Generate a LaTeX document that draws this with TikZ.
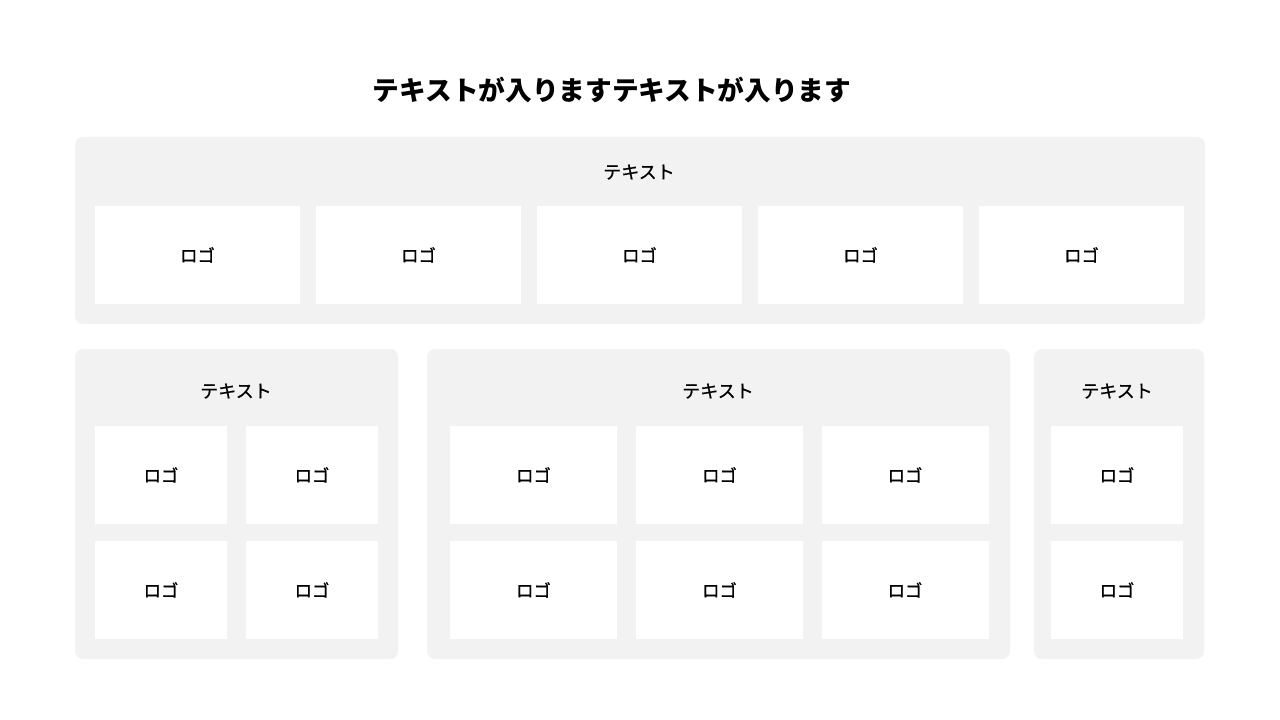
\documentclass[tikz,border=0pt]{standalone}
\usepackage{fontspec}
\setmainfont{Noto Sans CJK JP}
\newfontfamily\medfont[FakeBold=1.2]{Noto Sans CJK JP}
\newfontfamily\semifont[FakeBold=0.6]{Noto Sans CJK JP}
\definecolor{panelgray}{HTML}{F2F2F2}
\tikzset{
  panel/.style={fill=panelgray, rounded corners=6pt},
  heading/.style={font=\semifont\fontsize{13.5}{16}\selectfont},
  logo/.style={fill=white, inner sep=0pt, minimum width=#1, minimum height=73.5pt,
    font=\medfont\fontsize{13}{15}\selectfont},
}
\begin{document}
\begin{tikzpicture}[x=0.75pt,y=-0.75pt]
	\useasboundingbox[fill=white] (0,0) rectangle (1280,720);
	\node[font=\bfseries\fontsize{20}{24}\selectfont] (title) at (612,90) {テキストが入りますテキストが入ります};
	% top row
	\fill[panel] (75,137) rectangle (1205,324);
	\node[heading] (tophead) at (639,172) {テキスト};
	\foreach \i/\x in {1/197.5,2/418.5,3/639.5,4/860.5,5/1081.5}
		\node[logo=153.75pt] (top\i) at (\x,255) {ロゴ};
	% bottom left
	\fill[panel] (75,349) rectangle (398,659);
	\node[heading] (lefthead) at (236,391) {テキスト};
	\foreach \i/\x in {1/161,2/312}
		\foreach \j/\y in {1/475,2/590}
			\node[logo=99pt] (left\j\i) at (\x,\y) {ロゴ};
	% bottom middle
	\fill[panel] (427,349) rectangle (1010,659);
	\node[heading] (midhead) at (718,391) {テキスト};
	\foreach \i/\x in {1/533.5,2/719.5,3/905}
		\foreach \j/\y in {1/475,2/590}
			\node[logo=125.25pt] (mid\j\i) at (\x,\y) {ロゴ};
	% bottom right
	\fill[panel] (1034,349) rectangle (1204,659);
	\node[heading] (righthead) at (1117,391) {テキスト};
	\node[logo=99pt] (right1) at (1117,475) {ロゴ};
	\node[logo=99pt] (right2) at (1117,590) {ロゴ};
\end{tikzpicture}
\end{document}
